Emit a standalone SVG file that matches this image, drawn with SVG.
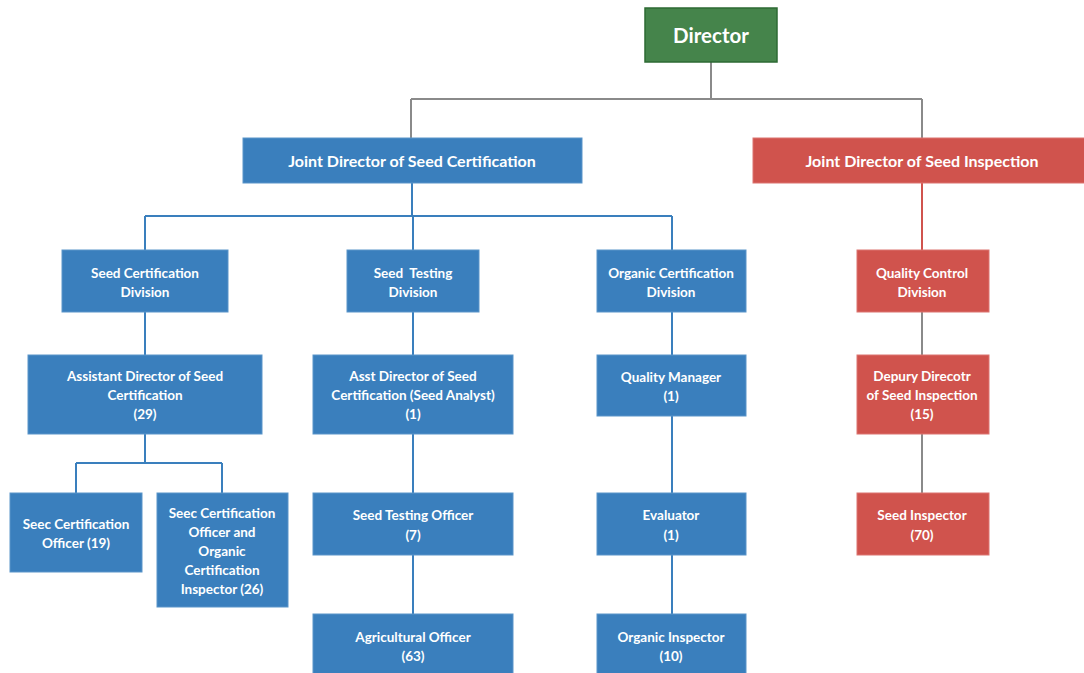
<svg xmlns="http://www.w3.org/2000/svg" width="1084" height="673" viewBox="0 0 1084 673">
  <style>
    text { font-family: Lato, "Noto Sans", "Liberation Sans", sans-serif; font-weight: bold; fill: #ffffff; text-anchor: middle; }
    .t13 { font-size: 13.5px; }
    .t15 { font-size: 16px; }
    .t20 { font-size: 20.5px; }
    .blue { fill: #3a7fbd; stroke: #5a95c9; stroke-width: 1; }
    .red { fill: #d0534d; stroke: #dc7570; stroke-width: 1; }
    .green { fill: #45844b; stroke: #2d6a33; stroke-width: 1.5; }
    .cg { stroke: #8a8a8a; stroke-width: 2; fill: none; }
    .cb { stroke: #3a7fbd; stroke-width: 2; fill: none; }
    .cr { stroke: #d0534d; stroke-width: 2; fill: none; }
  </style>
  <rect width="1084" height="673" fill="#ffffff"/>

  <g id="connectors">
    <path class="cg" d="M711 62 V99 M411 99 H922 M411 99 V138 M922 99 V138"/>
    <path class="cb" d="M412 183 V216 M145 216 H672 M145 216 V250 M413 216 V250 M672 216 V250"/>
    <path class="cb" d="M145 312 V355 M145 434 V463 M76 463 H222 M76 463 V493 M222 463 V493"/>
    <path class="cb" d="M413 312 V355 M413 434 V493 M413 555 V614"/>
    <path class="cb" d="M672 312 V355 M672 416 V493 M672 555 V614"/>
    <path class="cr" d="M922 183 V250"/>
    <path class="cg" d="M922 312 V355 M922 434 V493"/>
  </g>

  <g id="director">
    <rect class="green" x="645" y="8" width="132" height="54"/>
    <text class="t20" x="711" y="43">Director</text>
  </g>

  <g id="jd-certification">
    <rect class="blue" x="243" y="138" width="339" height="45"/>
    <text class="t15" x="412" y="166.5">Joint Director of Seed Certification</text>
  </g>

  <g id="jd-inspection">
    <rect class="red" x="753" y="138" width="333" height="45"/>
    <text class="t15" x="922" y="166.5">Joint Director of Seed Inspection</text>
  </g>

  <g id="seed-certification-division">
    <rect class="blue" x="62" y="250" width="166" height="62"/>
    <text class="t13" x="145" y="277.5">Seed Certification</text>
    <text class="t13" x="145" y="296.5">Division</text>
  </g>

  <g id="seed-testing-division">
    <rect class="blue" x="347" y="250" width="132" height="62"/>
    <text class="t13" x="413" y="277.5" xml:space="preserve">Seed  Testing</text>
    <text class="t13" x="413" y="296.5">Division</text>
  </g>

  <g id="organic-certification-division">
    <rect class="blue" x="597" y="250" width="149" height="62"/>
    <text class="t13" x="671" y="277.5">Organic Certification</text>
    <text class="t13" x="671" y="296.5">Division</text>
  </g>

  <g id="quality-control-division">
    <rect class="red" x="857" y="250" width="132" height="62"/>
    <text class="t13" x="922" y="277.5">Quality Control</text>
    <text class="t13" x="922" y="296.5">Division</text>
  </g>

  <g id="assistant-director">
    <rect class="blue" x="28" y="355" width="234" height="79"/>
    <text class="t13" x="145" y="380.5">Assistant Director of Seed</text>
    <text class="t13" x="145" y="399.5">Certification</text>
    <text class="t13" x="145" y="418.5">(29)</text>
  </g>

  <g id="asst-director-analyst">
    <rect class="blue" x="313" y="355" width="200" height="79"/>
    <text class="t13" x="413" y="380.5">Asst Director of Seed</text>
    <text class="t13" x="413" y="399.5">Certification (Seed Analyst)</text>
    <text class="t13" x="413" y="418.5">(1)</text>
  </g>

  <g id="quality-manager">
    <rect class="blue" x="597" y="355" width="149" height="61"/>
    <text class="t13" x="671" y="381.5">Quality Manager</text>
    <text class="t13" x="671" y="400.5">(1)</text>
  </g>

  <g id="deputy-director">
    <rect class="red" x="857" y="355" width="132" height="79"/>
    <text class="t13" x="922" y="380.5">Depury Direcotr</text>
    <text class="t13" x="922" y="399.5">of Seed Inspection</text>
    <text class="t13" x="922" y="418.5">(15)</text>
  </g>

  <g id="certification-officer">
    <rect class="blue" x="10" y="493" width="132" height="79"/>
    <text class="t13" x="76" y="528.5">Seec Certification</text>
    <text class="t13" x="76" y="547.5">Officer (19)</text>
  </g>

  <g id="certification-organic-officer">
    <rect class="blue" x="157" y="493" width="131" height="114"/>
    <text class="t13" x="222" y="517.5">Seec Certification</text>
    <text class="t13" x="222" y="536.5">Officer and</text>
    <text class="t13" x="222" y="555.5">Organic</text>
    <text class="t13" x="222" y="574.5">Certification</text>
    <text class="t13" x="222" y="593.5">Inspector (26)</text>
  </g>

  <g id="seed-testing-officer">
    <rect class="blue" x="313" y="493" width="200" height="62"/>
    <text class="t13" x="413" y="519.5">Seed Testing Officer</text>
    <text class="t13" x="413" y="539.5">(7)</text>
  </g>

  <g id="evaluator">
    <rect class="blue" x="597" y="493" width="149" height="62"/>
    <text class="t13" x="671" y="519.5">Evaluator</text>
    <text class="t13" x="671" y="539.5">(1)</text>
  </g>

  <g id="seed-inspector">
    <rect class="red" x="857" y="493" width="132" height="62"/>
    <text class="t13" x="922" y="519.5">Seed Inspector</text>
    <text class="t13" x="922" y="539.5">(70)</text>
  </g>

  <g id="agricultural-officer">
    <rect class="blue" x="313" y="614" width="200" height="62"/>
    <text class="t13" x="413" y="641.5">Agricultural Officer</text>
    <text class="t13" x="413" y="660.5">(63)</text>
  </g>

  <g id="organic-inspector">
    <rect class="blue" x="597" y="614" width="149" height="62"/>
    <text class="t13" x="671" y="641.5">Organic Inspector</text>
    <text class="t13" x="671" y="660.5">(10)</text>
  </g>
</svg>
